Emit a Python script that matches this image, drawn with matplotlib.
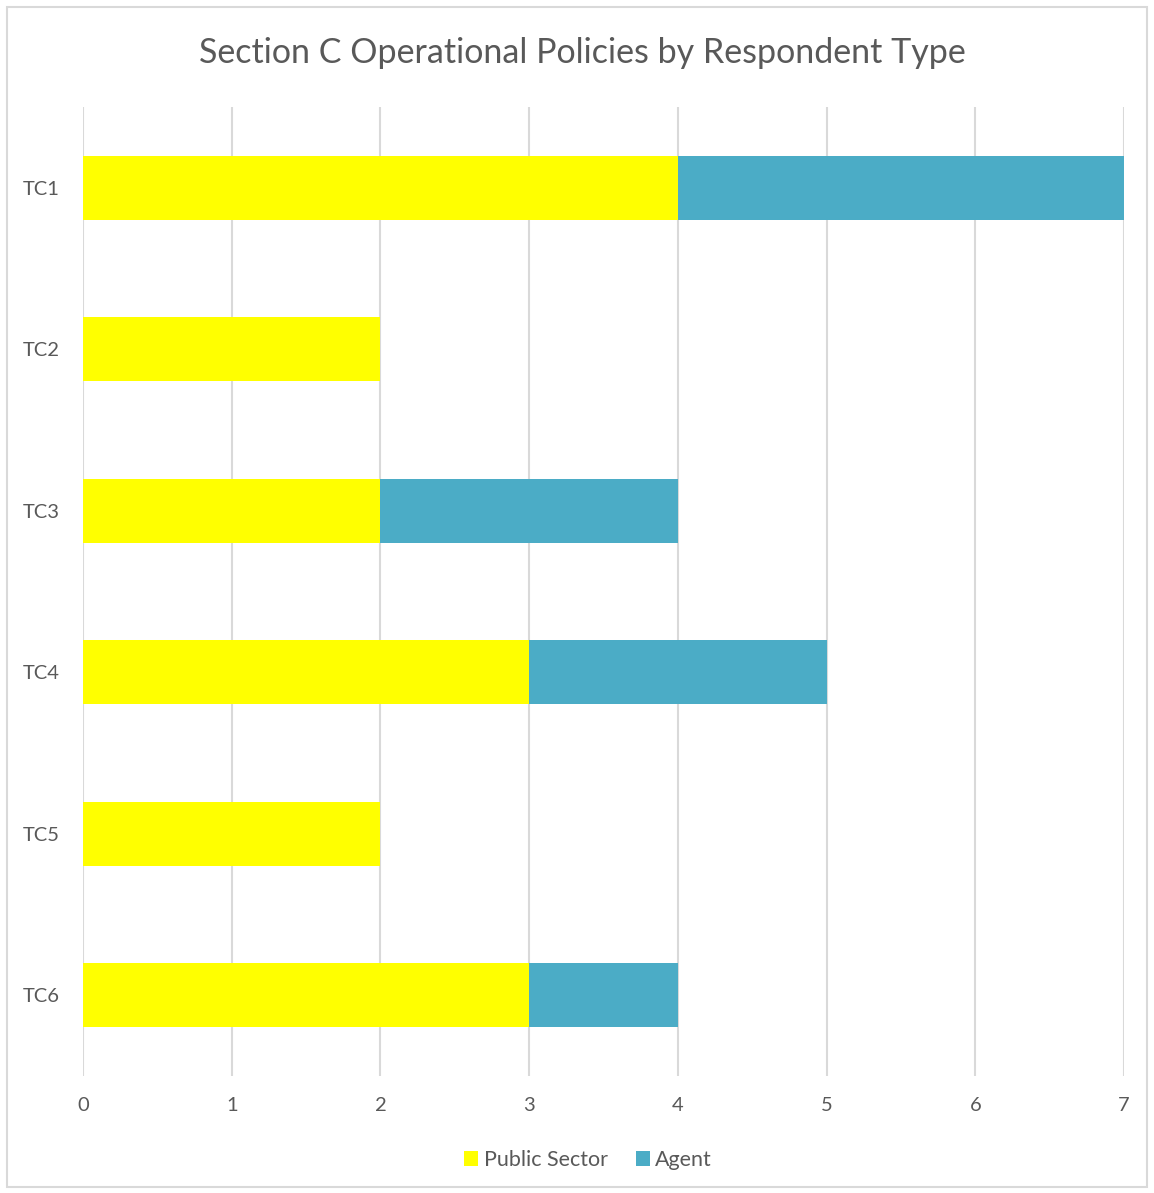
import matplotlib.pyplot as plt
import matplotlib.patches as patches

categories = ['TC1', 'TC2', 'TC3', 'TC4', 'TC5', 'TC6']
public_sector = [4, 2, 2, 3, 2, 3]
agent = [3, 0, 2, 2, 0, 1]

W, H = 1154, 1193
text_color = '#595959'
grid_color = '#D9D9D9'

plt.rcParams['font.family'] = ['Lato', 'DejaVu Sans']

fig = plt.figure(figsize=(W / 100, H / 100), dpi=100)
ax = fig.add_axes([83 / W, 1 - 1076 / H, (1124 - 83) / W, (1076 - 107) / H])

# outer chart frame
frame = patches.Rectangle((7 / W, 1 - 1187 / H), (1147 - 7) / W, (1187 - 7) / H,
                          transform=fig.transFigure, fill=False,
                          edgecolor=grid_color, linewidth=1.5)
fig.patches.append(frame)

y = list(range(len(categories)))
ax.barh(y, public_sector, height=0.396, color='#FFFF00', label='Public Sector', zorder=3)
ax.barh(y, agent, left=public_sector, height=0.396, color='#4BACC6', label='Agent', zorder=3)

ax.set_xlim(0, 7)
ax.set_ylim(len(categories) - 0.5, -0.5)
ax.set_yticks(y)
ax.set_yticklabels(categories)
ax.set_xticks(range(8))

for s in ax.spines.values():
    s.set_visible(False)
ax.grid(axis='x', color=grid_color, linewidth=1.5, zorder=0)
ax.tick_params(length=0, labelsize=14.5, labelcolor=text_color)
ax.tick_params(axis='y', pad=16.5)
ax.tick_params(axis='x', pad=15)

fig.text(582 / W, 1 - 53 / H, 'Section C Operational Policies by Respondent Type',
         ha='center', va='center', fontsize=24.5, color=text_color)

fig.legend(loc='center', bbox_to_anchor=(588 / W, 1 - 1160 / H), ncol=2, frameon=False,
           fontsize=15.5, labelcolor=text_color, handlelength=0.65, handleheight=0.65,
           handletextpad=0.25, columnspacing=1.3)

fig.savefig('out.png', dpi=100)
